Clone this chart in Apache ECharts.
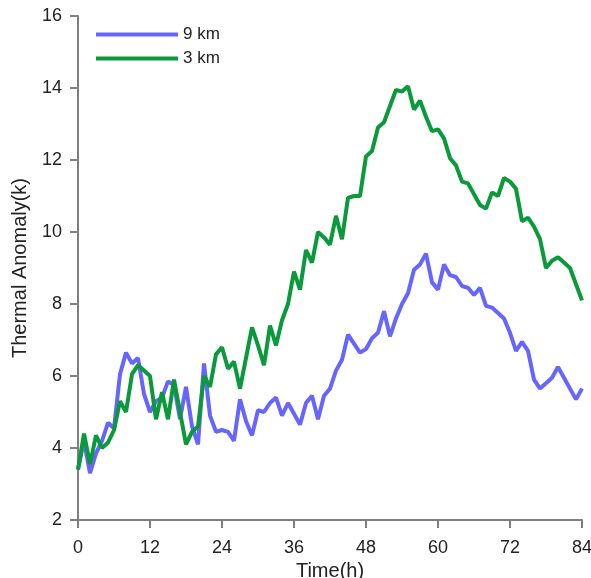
<!DOCTYPE html>
<html>
<head>
<meta charset="utf-8">
<title>Thermal Anomaly</title>
<script src="https://cdn.jsdelivr.net/npm/echarts@6/dist/echarts.min.js"></script>
<style>
  html, body { margin: 0; padding: 0; background: #fff; }
  #myChart { width: 591px; height: 578px; }
</style>
</head>
<body>
<div id="myChart"></div>
<script>
// hours 0..84, one value per hour
var hours = [];
for (var i = 0; i <= 84; i++) hours.push(i);

var km9 = [3.4, 4.2, 3.3, 3.85, 4.2, 4.7, 4.55, 6.05, 6.65, 6.35,
  6.5, 5.5, 5.0, 5.3, 5.4, 5.85, 5.75, 4.8, 5.7, 4.6,
  4.1, 6.35, 4.9, 4.45, 4.5, 4.45, 4.2, 5.35, 4.75, 4.35,
  5.05, 5.0, 5.25, 5.4, 4.9, 5.25, 4.95, 4.65, 5.25, 5.45,
  4.8, 5.45, 5.65, 6.15, 6.45, 7.15, 6.9, 6.65, 6.75, 7.05,
  7.2, 7.8, 7.1, 7.6, 8.0, 8.3, 8.95, 9.1, 9.4, 8.6,
  8.4, 9.1, 8.8, 8.75, 8.5, 8.45, 8.25, 8.45, 7.95, 7.9,
  7.75, 7.6, 7.2, 6.7, 6.95, 6.7, 5.9, 5.65, 5.8, 5.95,
  6.25, 5.95, 5.65, 5.35, 5.65];

var km3 = [3.4, 4.4, 3.55, 4.35, 4.0, 4.15, 4.5, 5.3, 5.0, 6.05,
  6.3, 6.15, 6.0, 4.8, 5.55, 4.8, 5.9, 5.0, 4.1, 4.45,
  4.6, 6.0, 5.7, 6.6, 6.8, 6.2, 6.4, 5.65, 6.5, 7.35,
  6.85, 6.3, 7.4, 6.85, 7.55, 8.0, 8.9, 8.4, 9.5, 9.15,
  10.0, 9.85, 9.65, 10.45, 9.8, 10.95, 11.0, 11.0, 12.1, 12.25,
  12.9, 13.05, 13.5, 13.95, 13.9, 14.05, 13.4, 13.65, 13.2, 12.8,
  12.85, 12.6, 12.05, 11.85, 11.4, 11.35, 11.05, 10.75, 10.65, 11.1,
  11.0, 11.5, 11.4, 11.2, 10.3, 10.4, 10.15, 9.8, 9.0, 9.2,
  9.3, 9.15, 9.0, 8.55, 8.1];

var seriesNames = ["9 km", "3 km"];

function pairs(vals) {
  return hours.map(function (h, i) { return [h, vals[i]]; });
}

var axisGray = "#7f7f7f";
var myChart = echarts.init(document.getElementById("myChart"));

myChart.setOption({
  animation: false,
  color: ["#6666ff", "#0a9a3c"],
  textStyle: { fontFamily: "Liberation Sans, Arial, sans-serif" },
  // fixed plot box, don't let v6 shrink it to fit labels
  grid: { left: 78, top: 16, width: 504, height: 504, outerBoundsMode: "none" },
  legend: {
    left: 91,
    top: 21,
    orient: "vertical",
    itemWidth: 82,
    itemHeight: 4,
    itemGap: 7,
    icon: "rect",
    textStyle: { fontSize: 17, color: "#222" },
    data: seriesNames
  },
  xAxis: {
    type: "value",
    min: 0,
    max: 84,
    interval: 12,
    name: "Time(h)",
    nameLocation: "middle",
    nameGap: 34,
    nameTextStyle: { fontSize: 20, color: "#222" },
    axisLine: { lineStyle: { color: axisGray, width: 2 } },
    axisTick: { length: 8, lineStyle: { color: axisGray, width: 2 } },
    axisLabel: { fontSize: 18, color: "#222", margin: 19 },
    splitLine: { show: false }
  },
  yAxis: {
    type: "value",
    min: 2,
    max: 16,
    interval: 2,
    name: "Thermal Anomaly(k)",
    nameLocation: "middle",
    nameGap: 48,
    nameTextStyle: { fontSize: 20, color: "#222" },
    axisLine: { show: true, lineStyle: { color: axisGray, width: 2 } },
    axisTick: { show: true, length: 8, lineStyle: { color: axisGray, width: 2 } },
    axisLabel: { fontSize: 18, color: "#222", margin: 16 },
    splitLine: { show: false }
  },
  series: [
    {
      name: seriesNames[0],
      type: "line",
      data: pairs(km9),
      showSymbol: false,
      lineStyle: { width: 4 }
    },
    {
      name: seriesNames[1],
      type: "line",
      data: pairs(km3),
      showSymbol: false,
      lineStyle: { width: 4 }
    }
  ]
});
</script>
</body>
</html>
